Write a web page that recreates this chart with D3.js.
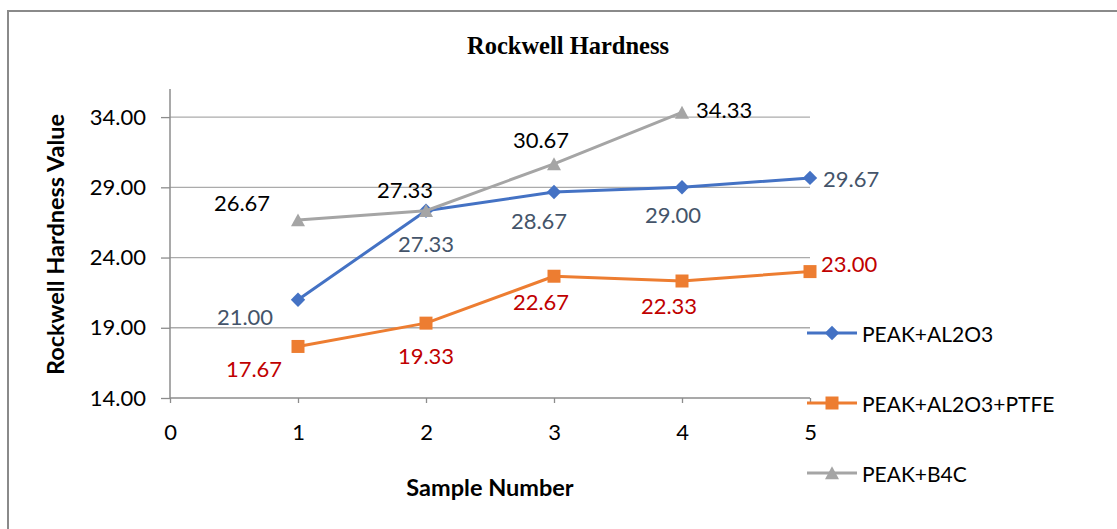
<!DOCTYPE html>
<html>
<head>
<meta charset="utf-8">
<script src="https://cdn.jsdelivr.net/npm/d3@7"></script>
<style>
  html, body { margin: 0; padding: 0; background: #fff; }
  svg { display: block; }
</style>
</head>
<body>
<svg id="chart" width="1117" height="529"></svg>
<script>
// Sample numbers on the x axis
const samples = [1, 2, 3, 4, 5];

// Hardness per composite
const al2o3 = [21.00, 27.33, 28.67, 29.00, 29.67];
const al2o3Ptfe = [17.67, 19.33, 22.67, 22.33, 23.00];
const b4c = [26.67, 27.33, 30.67, 34.33];

const seriesNames = ["PEAK+AL2O3", "PEAK+AL2O3+PTFE", "PEAK+B4C"];
const yTicks = [14, 19, 24, 29, 34];
const xTicks = [0, 1, 2, 3, 4, 5];

// Label placement per point: [dx, dy, anchor] relative to the marker centre
const labelPlacement = [
  [[-53, 17, "middle"], [0, 33, "middle"], [-15, 29, "middle"], [-9, 27, "middle"], [13, 1, "start"]],
  [[-44, 22, "middle"], [0, 32, "middle"], [-13, 25, "middle"], [-13, 24, "middle"], [11, -8, "start"]],
  [[-56, -18, "middle"], [-21, -21, "middle"], [-13, -24, "middle"], [14, -3, "start"]]
];

// Marker shapes (r = half the marker width)
const markerShapes = {
  diamond: { draw(ctx, r) { ctx.moveTo(0, -r); ctx.lineTo(r, 0); ctx.lineTo(0, r); ctx.lineTo(-r, 0); ctx.closePath(); } },
  square: { draw(ctx, r) { ctx.rect(-r, -r, 2 * r, 2 * r); } },
  triangle: { draw(ctx, r) { ctx.moveTo(0, -r * 0.95); ctx.lineTo(r, r * 0.9); ctx.lineTo(-r, r * 0.9); ctx.closePath(); } }
};

const styles = [
  { color: "#4472C4", labelColor: "#44546A", symbol: markerShapes.diamond, size: 7.2 },
  { color: "#ED7D31", labelColor: "#C00000", symbol: markerShapes.square, size: 6.5 },
  { color: "#A5A5A5", labelColor: "#000000", symbol: markerShapes.triangle, size: 7 }
];

const series = [al2o3, al2o3Ptfe, b4c].map((vals, i) => ({
  name: seriesNames[i],
  points: vals.map((v, j) => ({ x: samples[j], y: v, place: labelPlacement[i][j] })),
  style: styles[i]
}));

const svg = d3.select("#chart");
const font = "Lato, 'Open Sans', sans-serif";

// Outer chart frame
svg.append("rect")
  .attr("x", 8).attr("y", 11)
  .attr("width", 1130).attr("height", 540)
  .attr("fill", "#fff").attr("stroke", "#8A8A8A").attr("stroke-width", 2);

const x = d3.scaleLinear().domain([0, 5]).range([170, 810]);
const y = d3.scaleLinear().domain([14, 36]).range([398, 89]);

// Horizontal gridlines
svg.append("g")
  .selectAll("line")
  .data(yTicks.filter(t => t !== 14))
  .join("line")
  .attr("x1", x(0)).attr("x2", x(5))
  .attr("y1", d => y(d)).attr("y2", d => y(d))
  .attr("stroke", "#ABABAB").attr("stroke-width", 1.3);

// Y axis
const yAxis = svg.append("g")
  .attr("transform", `translate(${x(0)},0)`)
  .call(d3.axisLeft(y).tickValues(yTicks).tickFormat(d3.format(".2f")).tickSize(9).tickPadding(15));
yAxis.select(".domain").attr("stroke", "#8C8C8C").attr("stroke-width", 1.5)
  .attr("d", `M0,${y(36)}V${y(14)}`);
yAxis.selectAll(".tick line").attr("stroke", "#8C8C8C").attr("stroke-width", 1.3);
yAxis.selectAll(".tick text").attr("font-family", font).attr("font-size", 22).attr("fill", "#000");

// X axis
const xAxis = svg.append("g")
  .attr("transform", `translate(0,${y(14)})`)
  .call(d3.axisBottom(x).tickValues(xTicks).tickFormat(d3.format("d")).tickSize(5).tickPadding(21));
xAxis.select(".domain").attr("stroke", "#8C8C8C").attr("stroke-width", 1.5)
  .attr("d", `M${x(0)},0H${x(5)}`);
xAxis.selectAll(".tick line").attr("stroke", "#8C8C8C").attr("stroke-width", 1.3);
xAxis.selectAll(".tick text").attr("font-family", font).attr("font-size", 22).attr("fill", "#000");

// Series lines, markers and value labels
const line = d3.line().x(d => x(d.x)).y(d => y(d.y));

series.forEach(s => {
  const g = svg.append("g");
  g.append("path")
    .datum(s.points)
    .attr("d", line)
    .attr("fill", "none")
    .attr("stroke", s.style.color)
    .attr("stroke-width", 3)
    .attr("stroke-linejoin", "round");
  g.selectAll("path.marker")
    .data(s.points)
    .join("path")
    .attr("class", "marker")
    .attr("transform", d => `translate(${x(d.x)},${y(d.y)})`)
    .attr("d", d3.symbol().type(s.style.symbol).size(s.style.size))
    .attr("fill", s.style.color);
});

series.forEach(s => {
  svg.append("g")
    .selectAll("text")
    .data(s.points)
    .join("text")
    .attr("x", d => x(d.x) + d.place[0])
    .attr("y", d => y(d.y) + d.place[1])
    .attr("text-anchor", d => d.place[2])
    .attr("dominant-baseline", "central")
    .attr("font-family", font)
    .attr("font-size", 22)
    .attr("fill", s.style.labelColor)
    .text(d => d3.format(".2f")(d.y));
});

// Title
svg.append("text")
  .attr("x", 568).attr("y", 45)
  .attr("text-anchor", "middle").attr("dominant-baseline", "central")
  .attr("font-family", "'Liberation Serif', 'Times New Roman', serif")
  .attr("font-weight", "bold").attr("font-size", 24.5)
  .text("Rockwell Hardness");

// Axis titles
svg.append("text")
  .attr("transform", `translate(55,${(y(14) + y(36)) / 2 + 1}) rotate(-90)`)
  .attr("text-anchor", "middle").attr("dominant-baseline", "central")
  .attr("font-family", font).attr("font-weight", "bold").attr("font-size", 23.5)
  .text("Rockwell Hardness Value");

svg.append("text")
  .attr("x", 490).attr("y", 487)
  .attr("text-anchor", "middle").attr("dominant-baseline", "central")
  .attr("font-family", font).attr("font-weight", "bold").attr("font-size", 23.5)
  .text("Sample Number");

// Legend
const legendY = [333, 403, 473];
const legend = svg.append("g")
  .selectAll("g")
  .data(series)
  .join("g")
  .attr("transform", (d, i) => `translate(807,${legendY[i]})`);
legend.append("line")
  .attr("x1", 0).attr("x2", 50)
  .attr("stroke", d => d.style.color).attr("stroke-width", 3);
legend.append("path")
  .attr("transform", "translate(25,0)")
  .attr("d", d => d3.symbol().type(d.style.symbol).size(d.style.size)())
  .attr("fill", d => d.style.color);
legend.append("text")
  .attr("x", 55).attr("dominant-baseline", "central")
  .attr("font-family", font).attr("font-size", 21).attr("fill", "#000")
  .text(d => d.name);
</script>
</body>
</html>
